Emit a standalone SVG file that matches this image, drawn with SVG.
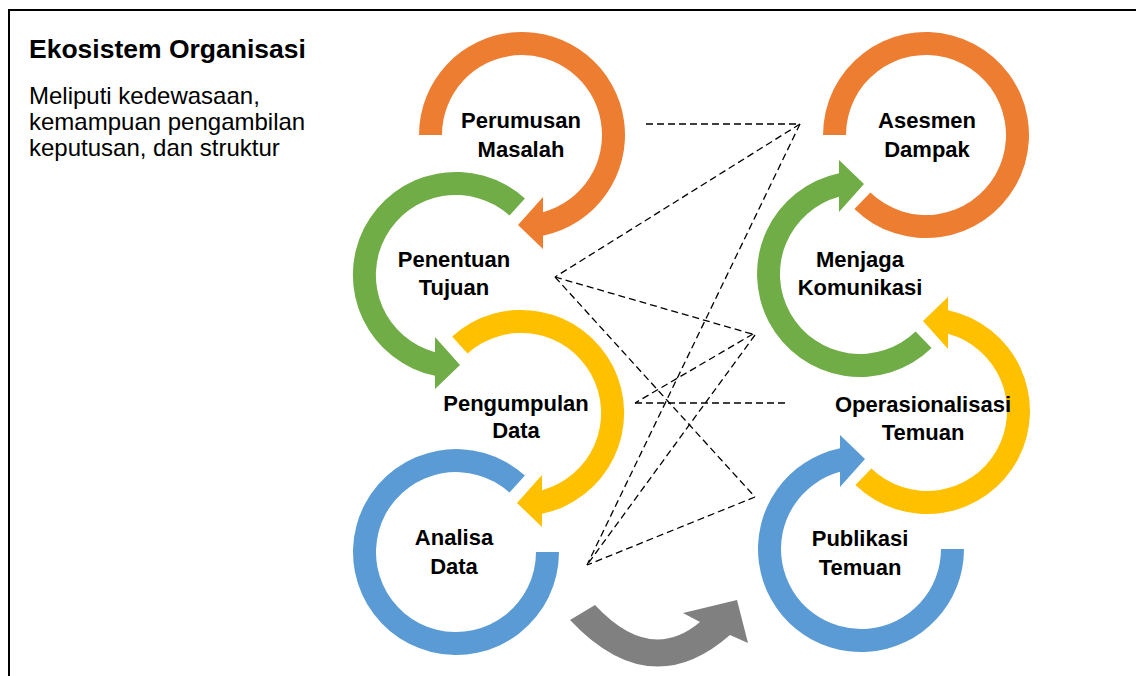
<svg xmlns="http://www.w3.org/2000/svg" width="1136" height="676" viewBox="0 0 1136 676">
<style>
.lbl{font-family:"Liberation Sans",Arial,sans-serif;font-weight:bold;font-size:22px;fill:#000;text-anchor:middle}
.side{font-family:"Liberation Sans",Arial,sans-serif;fill:#000}
.orange{fill:#ED7D31}.green{fill:#70AD47}.yellow{fill:#FFC000}.blue{fill:#5B9BD5}.gray{fill:#808080}
.dash{stroke:#000;stroke-width:1.3;stroke-dasharray:7 4;fill:none}
</style>
<rect x="0" y="0" width="1136" height="676" fill="#fff"/>
<rect x="9" y="10" width="1140" height="700" fill="none" stroke="#000" stroke-width="2"/>
<g id="side-text">
<text class="side" x="29" y="58" font-size="26.5" font-weight="bold">Ekosistem Organisasi</text>
<text class="side" x="29" y="104" font-size="24">Meliputi kedewasaan,</text>
<text class="side" x="29" y="130" font-size="24">kemampuan pengambilan</text>
<text class="side" x="29" y="156" font-size="24">keputusan, dan struktur</text>
</g>
<g id="connectors">
<line class="dash" x1="646" y1="124" x2="800" y2="124"/>
<line class="dash" x1="800" y1="124" x2="555" y2="277"/>
<line class="dash" x1="800" y1="124" x2="587" y2="565"/>
<line class="dash" x1="555" y1="277" x2="752" y2="334"/>
<line class="dash" x1="555" y1="277" x2="755" y2="497"/>
<line class="dash" x1="753" y1="334" x2="635" y2="403"/>
<line class="dash" x1="635" y1="403" x2="788" y2="403"/>
<line class="dash" x1="755" y1="335" x2="587" y2="565"/>
<line class="dash" x1="755" y1="497" x2="587" y2="565"/>
</g>
<g id="node-perumusan">
<path class="orange" d="M419,135 A103,103 0 1 1 543,235.8 L543,249 L518,225 L543,197 L543,212.2 A80,80 0 1 0 442,135 Z"/>
<text class="lbl" x="521" y="128">Perumusan</text>
<text class="lbl" x="521" y="157">Masalah</text>
</g>
<g id="node-penentuan">
<path class="green" d="M524.9,198.5 A103,103 0 1 0 435,375.8 L435,389 L460,365 L435,337 L435,352.2 A80,80 0 1 1 509.5,215.6 Z"/>
<text class="lbl" x="454" y="267">Penentuan</text>
<text class="lbl" x="454" y="295">Tujuan</text>
</g>
<g id="node-pengumpulan">
<path class="yellow" d="M452.1,336.5 A103,103 0 1 1 542,513.8 L542,527 L517,503 L542,475 L542,490.2 A80,80 0 1 0 467.5,353.6 Z"/>
<text class="lbl" x="516" y="411">Pengumpulan</text>
<text class="lbl" x="516" y="438">Data</text>
</g>
<g id="node-analisa">
<path class="blue" d="M524.9,475.5 A103,103 0 1 0 559,552 L536,552 A80,80 0 1 1 509.5,492.6 Z"/>
<text class="lbl" x="454" y="545">Analisa</text>
<text class="lbl" x="454" y="574">Data</text>
</g>
<g id="node-asesmen">
<path class="orange" d="M823,135 A103,103 0 1 1 854.4,209.1 L870.4,192.5 A80,80 0 1 0 846,135 Z"/>
<text class="lbl" x="927" y="128">Asesmen</text>
<text class="lbl" x="927" y="157">Dampak</text>
</g>
<g id="node-menjaga">
<path class="green" d="M931.6,348.1 A103,103 0 1 1 839,173.2 L839,160 L864,184 L839,212 L839,196.8 A80,80 0 1 0 915.6,331.5 Z"/>
<text class="lbl" x="860" y="267">Menjaga</text>
<text class="lbl" x="860" y="295">Komunikasi</text>
</g>
<g id="node-operasionalisasi">
<path class="yellow" d="M855.4,485.1 A103,103 0 1 0 948,310.2 L948,297 L923,321 L948,349 L948,333.8 A80,80 0 1 1 871.4,468.5 Z"/>
<text class="lbl" x="923" y="412">Operasionalisasi</text>
<text class="lbl" x="923" y="440">Temuan</text>
</g>
<g id="node-publikasi">
<path class="blue" d="M964,549 A103,103 0 1 1 840,448.2 L840,435 L865,459 L840,487 L840,471.8 A80,80 0 1 0 941,549 Z"/>
<text class="lbl" x="860" y="546">Publikasi</text>
<text class="lbl" x="860" y="575">Temuan</text>
</g>
<g id="transition-arrow">
<path class="gray" d="M570,620 Q650,705 730,635 L748,643 L737,600 L683,613 L700,622 Q650,664 595,605 Z"/>
</g>
</svg>
